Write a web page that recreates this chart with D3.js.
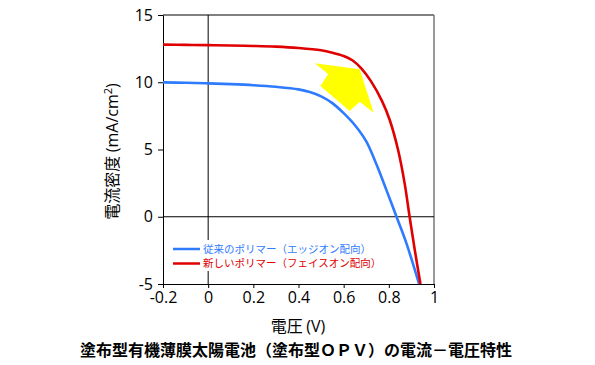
<!DOCTYPE html>
<html><head><meta charset="utf-8">
<script src="https://cdn.jsdelivr.net/npm/d3@7/dist/d3.min.js"></script>
<style>
html,body{margin:0;padding:0;background:#fff;}
svg{display:block;}
</style>
</head><body>
<svg id="c" width="595" height="365"></svg>
<script>
// ---- data ----
const blueV = [-0.2, -0.1, 0, 0.1, 0.2, 0.3, 0.4, 0.45, 0.5, 0.55, 0.6, 0.65, 0.7, 0.745, 0.789, 0.834, 0.878, 0.934];
const blueJ = [9.99, 9.96, 9.92, 9.86, 9.78, 9.66, 9.47, 9.27, 8.95, 8.45, 7.70, 6.80, 5.60, 3.90, 2.00, 0, -1.98, -5];
const redV = [-0.2, -0.1, 0, 0.1, 0.2, 0.3, 0.4, 0.5, 0.55, 0.6, 0.64, 0.68, 0.72, 0.77, 0.804, 0.841, 0.87, 0.892, 0.915, 0.94];
const redJ = [12.80, 12.78, 12.76, 12.73, 12.70, 12.65, 12.55, 12.38, 12.20, 11.95, 11.62, 11.00, 10.10, 8.60, 7.19, 4.96, 2.48, 0, -2.48, -5];
const xTicks = [-0.2, 0, 0.2, 0.4, 0.6, 0.8, 1];
const xTickLabels = ["-0.2", "0", "0.2", "0.4", "0.6", "0.8", "1"];
const yTicks = [-5, 0, 5, 10, 15];
const yTickLabels = ["-5", "0", "5", "10", "15"];
const seriesNames = ["従来のポリマー（エッジオン配向）", "新しいポリマー（フェイスオン配向）"];
const seriesColors = ["#2f7bff", "#e00000"];
// arrow annotation in data units (V, J)
const arrowV = [0.472, 0.671, 0.733, 0.671, 0.627, 0.497, 0.531];
const arrowJ = [11.41, 10.96, 7.73, 8.55, 7.86, 9.72, 10.61];
const xTitle = "電圧 (V)";
const chartTitle = "塗布型有機薄膜太陽電池（塗布型ＯＰＶ）の電流－電圧特性";

// ---- layout ----
const svg = d3.select("#c");
const L = 163, R = 434, T = 15, B = 284;
const x = d3.scaleLinear().domain([-0.2, 1]).range([L, R]);
const y = d3.scaleLinear().domain([-5, 15]).range([B, T]);
const numFont = "'Open Sans', 'DejaVu Sans', sans-serif";
const jpFont = "'Noto Sans CJK JP', sans-serif";

// borders top/right
svg.append("line").attr("x1", L).attr("x2", R).attr("y1", T).attr("y2", T)
  .attr("stroke", "#000").attr("stroke-width", 1);
svg.append("line").attr("x1", R).attr("x2", R).attr("y1", T).attr("y2", B)
  .attr("stroke", "#777").attr("stroke-width", 1.5);

// zero lines
svg.append("line").attr("x1", x(0)).attr("x2", x(0)).attr("y1", T).attr("y2", B)
  .attr("stroke", "#000").attr("stroke-width", 1);
svg.append("line").attr("x1", L).attr("x2", R).attr("y1", y(0)).attr("y2", y(0))
  .attr("stroke", "#000").attr("stroke-width", 1);

// axes
const xAxis = d3.axisBottom(x).tickValues(xTicks).tickFormat((d, i) => xTickLabels[i])
  .tickSizeInner(4).tickSizeOuter(0).tickPadding(4);
const gx = svg.append("g").attr("transform", `translate(0,${B})`).call(xAxis);
const yAxis = d3.axisLeft(y).tickValues(yTicks).tickFormat((d, i) => yTickLabels[i])
  .tickSizeInner(5).tickSizeOuter(0).tickPadding(5);
const gy = svg.append("g").attr("transform", `translate(${L},0)`).call(yAxis);
[gx, gy].forEach(g => {
  g.select(".domain").attr("stroke", "#000").attr("stroke-width", 1);
  g.selectAll(".tick line").attr("stroke", "#000");
  g.selectAll("text").attr("fill", "#000").style("font-family", numFont).style("font-size", "16px");
});

// arrow
const arrowPts = arrowV.map((v, i) => [x(v), y(arrowJ[i])]);
svg.append("polygon").attr("points", arrowPts.map(p => p.join(",")).join(" "))
  .attr("fill", "#ffff00");

// curves
const line = d3.line().x(d => x(d[0])).y(d => y(d[1])).curve(d3.curveCatmullRom.alpha(0.5));
const series = [
  blueV.map((v, i) => [v, blueJ[i]]),
  redV.map((v, i) => [v, redJ[i]])
];
series.forEach((s, i) => {
  svg.append("path").attr("d", line(s)).attr("fill", "none")
    .attr("stroke", seriesColors[i]).attr("stroke-width", 2.6);
});

// legend (white box hides the zero line)
svg.append("rect").attr("x", 168).attr("y", 240).attr("width", 205).attr("height", 31).attr("fill", "#fff");
seriesNames.forEach((name, i) => {
  const ly = 249 + i * 14.5;
  svg.append("line").attr("x1", 173).attr("x2", 200).attr("y1", ly).attr("y2", ly)
    .attr("stroke", seriesColors[i]).attr("stroke-width", 2.5);
  svg.append("text").attr("x", 203).attr("y", ly + 3.8).text(name)
    .attr("fill", seriesColors[i]).style("font-family", jpFont).style("font-size", "10.5px");
});

// y title
const yt = svg.append("text").attr("transform", `translate(118,${(T + B) / 2 + 2}) rotate(-90)`)
  .attr("text-anchor", "middle").style("font-size", "16px").attr("fill", "#000");
yt.append("tspan").style("font-family", jpFont).text("電流密度 ");
yt.append("tspan").style("font-family", numFont).text("(mA/cm");
yt.append("tspan").style("font-family", numFont).style("font-size", "11px").attr("dy", -6).text("2");
yt.append("tspan").style("font-family", numFont).attr("dy", 6).text(")");

// x title
const xt = svg.append("text").attr("x", 298).attr("y", 332).attr("text-anchor", "middle")
  .style("font-size", "16px").attr("fill", "#000");
xt.append("tspan").style("font-family", jpFont).text("電圧 ");
xt.append("tspan").style("font-family", numFont).text("(V)");

// chart title
svg.append("text").attr("x", 296).attr("y", 356).attr("text-anchor", "middle")
  .style("font-family", jpFont).style("font-size", "16px").style("font-weight", "bold")
  .attr("fill", "#000").text(chartTitle);
</script>
</body></html>
